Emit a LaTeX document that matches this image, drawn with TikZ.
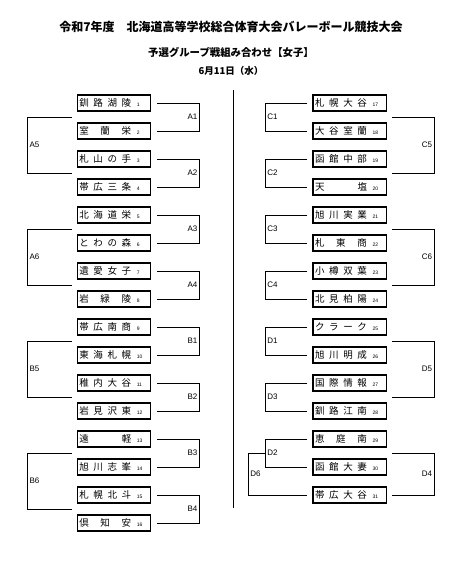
\documentclass[tikz,border=0pt]{standalone}
\usepackage{fontspec}
\setmainfont{Liberation Sans}
\newfontfamily\jpfont{Noto Sans CJK JP}
\usepackage{tikz}
\usetikzlibrary{calc}

% spread the characters of a team name over the box
\newcommand\spreadname[1]{\spreadnamei#1\relax}
\def\spreadnamei#1#2\relax{#1\ifx\relax#2\relax\else\hfill\spreadnamei#2\relax\fi}
\newcommand\teamtext[2]{\hbox to 73.5pt{\hspace{2pt}\hbox to 52pt{\jpfont\fontsize{9.5}{10}\selectfont\expandafter\spreadname\expandafter{#1}}\hspace{5.5pt}{\fontsize{5}{5}\selectfont #2}\hfill}}

\begin{document}
\begin{tikzpicture}[x=1pt, y=-1pt,
    teambox/.style={draw, line width=1.1pt, inner sep=0pt, minimum width=73.5pt, minimum height=16pt},
    bracket/.style={line width=0.8pt},
    lbl/.style={font=\fontsize{8}{9}\selectfont, inner sep=1.5pt},
    title/.style={font=\jpfont\bfseries\fontsize{12}{14}\selectfont, inner sep=0pt}]
    \useasboundingbox (0,0) rectangle (458,567);

    % Titles
    \node[title] (head) at (231,27) {令和7年度　北海道高等学校総合体育大会バレーボール競技大会};
    \node[title, font=\jpfont\bfseries\fontsize{10.4}{12}\selectfont] (sub) at (231,52) {予選グループ戦組み合わせ【女子】};
    \node[title, font=\jpfont\bfseries\fontsize{9.5}{11}\selectfont] (date) at (231,71) {6月11日（水）};

    % Teams
    \foreach \nm [count=\i] in {釧路湖陵,室蘭栄,札山の手,帯広三条,北海道栄,とわの森,遺愛女子,岩緑陵,
        帯広南商,東海札幌,稚内大谷,岩見沢東,遠軽,旭川志峯,札幌北斗,倶知安}
      \node[teambox] (t\i) at (114,{103+28*(\i-1)}) {\teamtext{\nm}{\i}};
    \foreach \nm [count=\i from 17] in {札幌大谷,大谷室蘭,函館中部,天塩,旭川実業,札東商,小樽双葉,北見柏陽,
        クラーク,旭川明成,国際情報,釧路江南,恵庭南,函館大妻,帯広大谷}
      \node[teambox] (t\i) at (349.75,{103+28*(\i-17)}) {\teamtext{\nm}{\i}};

    % Divider
    \draw[bracket] (233,90) -- (233,508);

    % Left half
    \foreach \a/\b/\l in {1/2/A1,3/4/A2,5/6/A3,7/8/A4,9/10/B1,11/12/B2,13/14/B3,15/16/B4}
      \draw[bracket] ($(t\a.east)+(6,0)$) -| ($(t\b.east)+(48,0)$) coordinate[pos=.75] (m\l)
        node[pos=.75, lbl, left] {\l} -- ($(t\b.east)+(6,0)$);
    \foreach \a/\b/\l in {A1/A2/A5,A3/A4/A6,B1/B2/B5,B3/B4/B6}
      \draw[bracket] ($(m\a -| t1.west)+(-5,0)$) -| ($(m\b -| t1.west)+(-49,0)$)
        node[pos=.75, lbl, right] {\l} -- ($(m\b -| t1.west)+(-5,0)$);

    % Right half
    \foreach \a/\b/\l in {17/18/C1,19/20/C2,21/22/C3,23/24/C4,25/26/D1,27/28/D3,29/30/D2}
      \draw[bracket] ($(t\a.west)+(-5,0)$) -| ($(t\b.west)+(-47,0)$) coordinate[pos=.75] (m\l)
        node[pos=.75, lbl, right] {\l} -- ($(t\b.west)+(-5,0)$);
    \foreach \a/\b/\l in {C1/C2/C5,C3/C4/C6,D1/D3/D5}
      \draw[bracket] ($(m\a -| t17.east)+(5,0)$) -| ($(m\b -| t17.east)+(47,0)$)
        node[pos=.75, lbl, left] {\l} -- ($(m\b -| t17.east)+(5,0)$);
    \draw[bracket] ($(mD2 -| t30.east)+(5,0)$) -| ($(t31.east)+(47,0)$)
      node[pos=.75, lbl, left] {D4} -- ($(t31.east)+(5,0)$);
    \draw[bracket] (mD2) -| ($(t31.west)+(-64,0)$)
      node[pos=.75, lbl, right] {D6} -- ($(t31.west)+(-5,0)$);
\end{tikzpicture}
\end{document}
